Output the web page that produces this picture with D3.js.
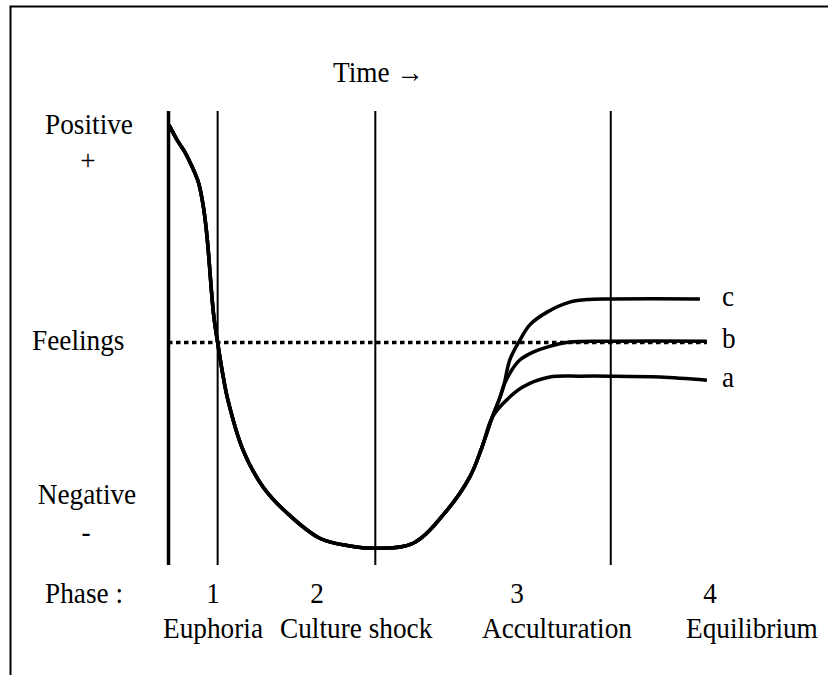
<!DOCTYPE html>
<html>
<head>
<meta charset="utf-8">
<script src="https://cdn.jsdelivr.net/npm/d3@7"></script>
<style>
  body { margin: 0; background: #fff; }
  text { font-family: "Liberation Serif", "Times New Roman", serif; font-size: 29.5px; fill: #000; }
</style>
</head>
<body>
<div id="chart"></div>
<script>
var svgWidth = 828;
var svgHeight = 675;

// Time runs 0..100 left to right, feelings 0 (negative) .. 100 (positive)
var phaseBounds = [0, 9.1, 38.3, 81.9];
var neutralFeeling = 49.0;

// common U-curve: [time, feeling]
var mainCurve = [
    [0.2, 96.9], [1.7, 93.6], [3.1, 91.0], [4.4, 87.9], [5.6, 84.4],
    [6.5, 79.3], [7.1, 73.8], [7.6, 67.2], [8.0, 61.0], [8.5, 54.6],
    [9.2, 48.9], [10.0, 43.0], [11.1, 36.3], [13.9, 25.3], [17.6, 17.2],
    [22.0, 11.5], [28.1, 5.9], [33.7, 4.2], [38.3, 3.7], [45.4, 4.8],
    [51.7, 12.1], [55.9, 19.4], [58.1, 25.8], [60.0, 32.4]
];
// shared part of b and c after a splits off
var bcCurve = [[61.5, 37.0], [62.2, 39.6]];
var aTail = [[62.0, 35.5], [65.7, 39.2], [70.7, 41.4], [76.3, 41.6], [81.9, 41.6], [91.1, 41.4], [99.8, 40.7]];
var bTail = [[63.7, 43.0], [65.2, 45.2], [67.6, 46.9], [70.2, 48.0], [74.4, 49.1], [81.9, 49.3], [99.8, 49.3]];
var cTail = [[63.3, 45.2], [65.2, 49.6], [67.0, 52.9], [70.2, 55.7], [74.4, 57.9], [78.1, 58.5], [81.9, 58.6], [98.5, 58.6]];

var outcomeNames = ["a", "b", "c"];

var phaseNumbers = ["1", "2", "3", "4"];
var phaseNames = ["Euphoria", "Culture shock", "Acculturation", "Equilibrium"];

var margin = { top: 111, right: 120, bottom: 110, left: 168 };

var svg = d3.select("#chart")
    .append("svg")
    .attr("width", svgWidth)
    .attr("height", svgHeight);

// outer frame (cut off at right and bottom)
svg.append("rect")
    .attr("x", 10.5)
    .attr("y", 6.5)
    .attr("width", 900)
    .attr("height", 900)
    .attr("fill", "none")
    .attr("stroke", "#000")
    .attr("stroke-width", 2);

var chartGroup = svg.append("g")
    .attr("transform", `translate(${margin.left}, ${margin.top})`);

var xScale = d3.scaleLinear().domain([0, 100]).range([0, 540]);
var yScale = d3.scaleLinear().domain([0, 100]).range([454, 0]);

// the source text is a bit squeezed sideways
function addText(parent, x, y, str, anchor) {
    return parent.append("text")
        .attr("transform", `translate(${x}, ${y}) scale(0.925, 1)`)
        .style("text-anchor", anchor || "start")
        .text(str);
}

// phase boundaries
chartGroup.selectAll(".phase-line")
    .data(phaseBounds)
    .enter()
    .append("line")
    .attr("class", "phase-line")
    .attr("x1", d => xScale(d) + 0.5)
    .attr("x2", d => xScale(d) + 0.5)
    .attr("y1", yScale(100))
    .attr("y2", yScale(0))
    .attr("stroke", "#000")
    .attr("stroke-width", (d, i) => i === 0 ? 3.5 : 2);

// neutral feelings line
chartGroup.append("line")
    .attr("x1", xScale(0))
    .attr("x2", xScale(99.8))
    .attr("y1", yScale(neutralFeeling))
    .attr("y2", yScale(neutralFeeling))
    .attr("stroke", "#000")
    .attr("stroke-width", 3.4)
    .attr("stroke-dasharray", "4.5,3.5");

var line = d3.line()
    .x(d => xScale(d[0]))
    .y(d => yScale(d[1]))
    .curve(d3.curveCatmullRom.alpha(0.5));

var series = [
    mainCurve.concat(aTail),
    mainCurve.concat(bcCurve, bTail),
    mainCurve.concat(bcCurve, cTail)
];

chartGroup.selectAll(".curve")
    .data(series)
    .enter()
    .append("path")
    .attr("class", "curve")
    .attr("d", line)
    .attr("fill", "none")
    .attr("stroke", "#000")
    .attr("stroke-width", 3.5)
    .attr("stroke-linecap", "butt")
    .attr("stroke-linejoin", "round");

// outcome labels
series.forEach(function(d, i) {
    addText(chartGroup, xScale(100) + 14, yScale(d[d.length - 1][1]) + 7, outcomeNames[i]);
});

// left side labels
addText(svg, 89, 134, "Positive", "middle");
addText(svg, 88, 170, "+", "middle");
addText(svg, 32, 350, "Feelings");
addText(svg, 87, 504, "Negative", "middle");
addText(svg, 86, 542, "-", "middle");

addText(svg, 333, 82, "Time \u2192");

// phase labels
var numberX = [213, 317, 517, 710];
var nameX = [163, 280, 482, 686];

addText(svg, 45, 603, "Phase :");

phaseNumbers.forEach(function(d, i) {
    addText(svg, numberX[i], 603, d, "middle");
});

phaseNames.forEach(function(d, i) {
    addText(svg, nameX[i], 638, d);
});
</script>
</body>
</html>
